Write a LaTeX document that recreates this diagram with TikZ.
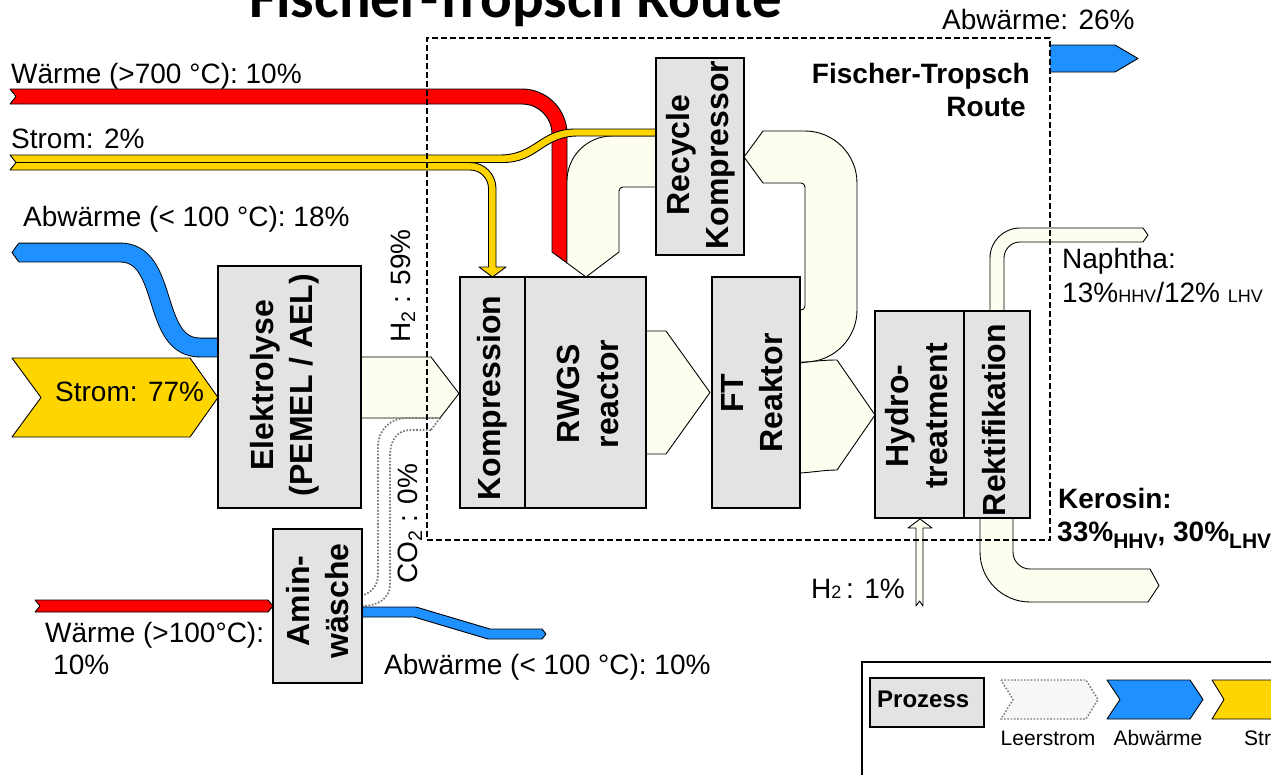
\documentclass[tikz,border=0pt]{standalone}
\usepackage{fontspec}
\setmainfont{Liberation Sans}
\newfontfamily\titlefont{Carlito}
\definecolor{hot}{HTML}{FF0000}
\definecolor{abw}{HTML}{1E90FF}
\definecolor{strom}{HTML}{FFD500}
\definecolor{leer}{HTML}{FEFEF0}
\definecolor{boxgray}{HTML}{E3E3E3}
\definecolor{dotgray}{HTML}{777777}
\tikzset{
  box/.style={draw=black, line width=1.8pt, fill=boxgray, inner sep=0pt, outer sep=0pt},
  btxt/.style={rotate=90, align=center, inner sep=0pt, font=\bfseries\fontsize{32}{39}\selectfont},
  lbl/.style={inner sep=0pt, font=\fontsize{28}{33}\selectfont},
  blbl/.style={inner sep=0pt, font=\bfseries\fontsize{28}{33}\selectfont},
  leglbl/.style={inner sep=0pt, font=\fontsize{21}{24}\selectfont},
  flow/.style={draw=black, line width=0.9pt, line join=round},
  dotline/.style={draw=dotgray, line width=1.8pt, dash pattern=on 1.6pt off 1.7pt},
  frame/.style={draw=black, line width=1.8pt, dash pattern=on 6pt off 3pt, inner sep=0pt},
}
\begin{document}
\begin{tikzpicture}[x=1pt,y=-1pt]
\useasboundingbox (0,0) rectangle (1271,774);
\clip (0,0) rectangle (1271,774);

% title (cut at the top)
\node[anchor=base west, inner sep=0pt, font=\titlefont\bfseries\fontsize{59}{62}\selectfont] (title) at (249,17) {Fischer-Tropsch Route};

% ---------- flows ----------
% Waerme >700 (red)
\draw[flow, fill=hot] (10,89) -- (522,89) .. controls (546.8,89) and (567,109.2) .. (567,134) -- (567,263) -- (552,252) -- (552,134) .. controls (552,117.4) and (538.6,104) .. (522,104) -- (10,104) -- (16,96.5) -- cycle;
% recycle: Recycle Kompressor -> RWGS
\draw[flow, fill=leer] (656,136) -- (612,136) .. controls (587.2,136) and (567,156.2) .. (567,181) -- (567,263) -- (586,277) -- (619,252) -- (619,191) .. controls (619,188.8) and (620.8,187) .. (623,187) -- (656,187) -- cycle;
% Strom 2% upper branch -> Recycle Kompressor
\draw[flow, fill=strom] (10,155) -- (500,155) .. controls (535,155) and (540,129) .. (575,129) -- (656,129) -- (656,136) -- (578,136) .. controls (543,136) and (538,162.5) .. (503,162.5) -- (16,162.5) -- cycle;
% Strom 2% lower branch -> Kompression
\draw[flow, fill=strom] (16,162.5) -- (470,162.5) .. controls (484.4,162.5) and (496,174.1) .. (496,188.5) -- (496,267) -- (506,267) -- (492.5,277) -- (479,267) -- (488.5,267) -- (488.5,188.5) .. controls (488.5,178.3) and (480.2,170) .. (470,170) -- (10,170) -- cycle;
% Abwaerme 18% (blue)
\draw[line width=0.9pt, draw=black, double=abw, double distance=18pt] (18.5,252.5) -- (120,252.5) .. controls (170,252.5) and (150,347.5) .. (200,347.5) -- (219,347.5);
\filldraw[flow, fill=abw] (18.5,243.5) -- (12,252.5) -- (18.5,261.5);
% Strom 77%
\draw[flow, fill=strom] (12,358) -- (190,358) -- (218,397.5) -- (190,437) -- (12,437) -- (41,397.5) -- cycle;
% H2 59%
\draw[flow, fill=leer] (361,357) -- (431,357) -- (459,393.5) -- (440,418) -- (361,418) -- cycle;
% CO2 0% (empty stream, dotted)
\draw[dotline] (440,418) -- (407,418) .. controls (390,418) and (378,430) .. (378,447) -- (378,575) .. controls (378,588) and (368,596) .. (355,597);
\draw[dotline] (431,430) -- (410,430) .. controls (398,430) and (390,440) .. (390,455) -- (390,585) .. controls (390,598) and (378,606) .. (362,606);
\draw[dotline] (440,418) -- (431,430);
% RWGS -> FT
\draw[flow, fill=leer] (646,331) -- (666,331) -- (710,392.5) -- (666,454) -- (646,454) -- cycle;
% recycle FT -> Recycle Kompressor
\draw[flow, fill=leer] (800,362) -- (805,362) .. controls (833.7,362) and (857,338.7) .. (857,310) -- (857,183) .. controls (857,154.3) and (833.7,131) .. (805,131) -- (763,131) -- (744,157) -- (763,183) -- (801,183) .. controls (803.2,183) and (805,184.8) .. (805,187) -- (805,306) .. controls (805,308.2) and (803.2,310) .. (801,310) -- (800,310) -- cycle;
% FT -> Hydrotreatment
\draw[flow, fill=leer] (800,363) .. controls (815,361) and (825,360) .. (837,360) -- (875,415) -- (837,470) .. controls (825,470) and (815,472) .. (800,473) -- cycle;
% Naphtha
\draw[flow, fill=leer] (990,311) -- (990,258) .. controls (990,241.4) and (1003.4,228) .. (1020,228) -- (1143,228) -- (1148,235) -- (1143,242) -- (1020,242) .. controls (1011.2,242) and (1004,249.2) .. (1004,258) -- (1004,311) -- cycle;
% Kerosin
\draw[flow, fill=leer] (980,518) -- (980,552) .. controls (980,579.6) and (1002.4,602) .. (1030,602) -- (1148,602) -- (1159,585.5) -- (1150,569) -- (1030,569) .. controls (1020.6,569) and (1013,561.4) .. (1013,552) -- (1013,518) -- cycle;
% H2 1%
\draw[flow, fill=leer] (916,606) -- (916,528) -- (908,528) -- (920,519) -- (932,528) -- (923,528) -- (923,606) -- (919.5,601) -- cycle;
% Waerme >100 (red)
\draw[flow, fill=hot] (35,600) -- (268,600) -- (273,606) -- (268,612) -- (35,612) -- (40,606) -- cycle;
% Abwaerme 10% (blue)
\draw[flow, fill=abw] (362,607) -- (416,607) -- (490,629) -- (542,629) -- (546,634) -- (542,639) -- (488,639) -- (414,617) -- (362,617) -- cycle;
% Abwaerme 26% (blue)
\fill[abw] (1050,45) -- (1115,45) -- (1138,58.5) -- (1115,72) -- (1050,72) -- cycle;
\draw[flow] (1050,45) -- (1115,45) -- (1138,58.5) -- (1115,72) -- (1050,72);

% ---------- process boxes ----------
\node[box, minimum width=143pt, minimum height=242pt] (elek) at (289.5,387) {};
\node[box, minimum width=65pt, minimum height=231pt] (komp) at (492.5,392.5) {};
\node[box, minimum width=121pt, minimum height=231pt] (rwgs) at (585.5,392.5) {};
\node[box, minimum width=88pt, minimum height=231pt] (ft) at (756,392.5) {};
\node[box, minimum width=88pt, minimum height=197pt] (rk) at (700,156.5) {};
\node[box, minimum width=89pt, minimum height=207pt] (hydro) at (919.5,414.5) {};
\node[box, minimum width=66pt, minimum height=207pt] (rekt) at (997,414.5) {};
\node[box, minimum width=89pt, minimum height=154pt] (amin) at (317.5,606) {};

\node[btxt] (elektxt) at (285,385) {Elektrolyse\\(PEMEL / AEL)};
\node[btxt] (komptxt) at (492,398) {Kompression};
\node[btxt] (rwgstxt) at (588,394) {RWGS\\reactor};
\node[btxt] (fttxt) at (752,393) {FT\\Reaktor};
\node[btxt] (rktxt) at (701,155) {Recycle\\Kompressor};
\node[btxt] (hydrotxt) at (917,416) {Hydro-\\treatment};
\node[btxt] (rekttxt) at (994,420) {Rektifikation};
\node[btxt] (amintxt) at (318,601) {Amin-\\wäsche};

% ---------- system boundary ----------
\node[frame, minimum width=623pt, minimum height=502pt] (route) at (738.5,289) {};

% ---------- labels ----------
\node[lbl, anchor=base west] (t700) at (11,83) {Wärme (>700 °C): 10\%};
\node[lbl, anchor=base west] (tstrom2) at (11,148) {Strom: 2\%};
\node[lbl, anchor=base west] (tabw18) at (23,226) {Abwärme (< 100 °C): 18\%};
\node[lbl, anchor=base west] (tstrom77) at (55,401) {Strom: 77\%};
\node[lbl, anchor=base west, rotate=90] (th2) at (410,343) {H\textsubscript{2} : 59\%};
\node[lbl, anchor=base west, rotate=90] (tco2) at (417,584) {CO\textsubscript{2} : 0\%};
\node[lbl, anchor=base west] (tabw26) at (942,29) {Abwärme: 26\%};
\node[blbl, anchor=base east] (tft1) at (1030,83) {Fischer-Tropsch};
\node[blbl, anchor=base east] (tft2) at (1026,116) {Route};
\node[lbl, anchor=base west] (tnaph) at (1062,268) {Naphtha:};
\node[lbl, anchor=base west] (tnaphv) at (1062,302) {13\%{\fontsize{18}{20}\selectfont HHV}/12\% {\fontsize{18}{20}\selectfont LHV}};
\node[blbl, anchor=base west] (tker) at (1058,508) {Kerosin:};
\node[blbl, anchor=base west] (tkerv) at (1057,541) {33\%\raisebox{-7pt}{\fontsize{21}{24}\selectfont HHV}, 30\%\raisebox{-7pt}{\fontsize{21}{24}\selectfont LHV}};
\node[lbl, anchor=base west] (th21) at (811,598) {H{\fontsize{18}{20}\selectfont 2}\,: 1\%};
\node[lbl, anchor=base west] (tw100) at (45,642) {Wärme (>100°C):};
\node[lbl, anchor=base west] (tw100b) at (53,674) {10\%};
\node[lbl, anchor=base west] (tabw10) at (384,674) {Abwärme (< 100 °C): 10\%};

% ---------- legend ----------
\node[draw=black, line width=1.8pt, fill=white, minimum width=428pt, minimum height=138pt, inner sep=0pt] (legend) at (1076,731) {};
\node[box, minimum width=114pt, minimum height=49pt] (legproz) at (927,702.5) {};
\node[inner sep=0pt, anchor=base west, font=\bfseries\fontsize{24}{28}\selectfont] (legproztxt) at (877,707) {Prozess};
\draw[dotline, line width=1.4pt, fill=white!97!black] (1001,680) -- (1086,680) -- (1098,699.5) -- (1086,719) -- (1001,719) -- (1013,699.5) -- cycle;
\draw[flow, fill=abw] (1107,680) -- (1190,680) -- (1203,699.5) -- (1190,719) -- (1107,719) -- (1120,699.5) -- cycle;
\draw[flow, fill=strom] (1212,680) -- (1296,680) -- (1308,699.5) -- (1296,719) -- (1212,719) -- (1224,699.5) -- cycle;
\node[leglbl, anchor=base] (legleer) at (1048,745) {Leerstrom};
\node[leglbl, anchor=base] (legabw) at (1158,745) {Abwärme};
\node[leglbl, anchor=base west] (legstrom) at (1244,745) {Strom};
\end{tikzpicture}
\end{document}
